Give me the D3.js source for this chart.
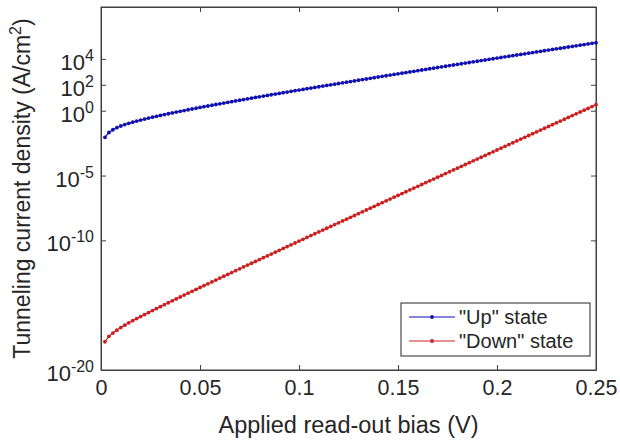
<!DOCTYPE html>
<meta charset="utf-8">
<script src="https://d3js.org/d3.v7.min.js"></script>
<style>
  body { margin: 0; background: #fff; }
  text { font-family: "Liberation Sans", Arial, sans-serif; fill: #262626; }
</style>
<div id="chart"></div>
<script>
// read-out bias (V)
const bias = [
  0.002,0.004,0.006,0.008,0.010,0.012,0.014,0.016,0.018,0.020,
  0.022,0.024,0.026,0.028,0.030,0.032,0.034,0.036,0.038,0.040,
  0.042,0.044,0.046,0.048,0.050,0.052,0.054,0.056,0.058,0.060,
  0.062,0.064,0.066,0.068,0.070,0.072,0.074,0.076,0.078,0.080,
  0.082,0.084,0.086,0.088,0.090,0.092,0.094,0.096,0.098,0.100,
  0.102,0.104,0.106,0.108,0.110,0.112,0.114,0.116,0.118,0.120,
  0.122,0.124,0.126,0.128,0.130,0.132,0.134,0.136,0.138,0.140,
  0.142,0.144,0.146,0.148,0.150,0.152,0.154,0.156,0.158,0.160,
  0.162,0.164,0.166,0.168,0.170,0.172,0.174,0.176,0.178,0.180,
  0.182,0.184,0.186,0.188,0.190,0.192,0.194,0.196,0.198,0.200,
  0.202,0.204,0.206,0.208,0.210,0.212,0.214,0.216,0.218,0.220,
  0.222,0.224,0.226,0.228,0.230,0.232,0.234,0.236,0.238,0.240,
  0.242,0.244,0.246,0.248,0.250
];

// log10 of current density (A/cm^2), "Up" state
const logUp = [
  -2.05,-1.68,-1.47,-1.31,-1.18,-1.066,-0.971,-0.883,-0.800,-0.720,
  -0.644,-0.571,-0.500,-0.431,-0.364,-0.298,-0.234,-0.170,-0.107,-0.046,
  0.014,0.075,0.134,0.192,0.251,0.308,0.365,0.422,0.478,0.534,
  0.589,0.644,0.699,0.753,0.808,0.862,0.916,0.969,1.022,1.075,
  1.129,1.180,1.233,1.286,1.337,1.389,1.441,1.493,1.544,1.595,
  1.646,1.697,1.748,1.798,1.849,1.899,1.949,1.999,2.050,2.100,
  2.151,2.200,2.250,2.300,2.349,2.399,2.448,2.497,2.547,2.600,
  2.649,2.698,2.747,2.796,2.845,2.894,2.943,2.992,3.041,3.090,
  3.139,3.188,3.236,3.285,3.333,3.382,3.430,3.479,3.527,3.576,
  3.624,3.672,3.720,3.768,3.816,3.864,3.913,3.961,4.009,4.057,
  4.105,4.153,4.200,4.248,4.296,4.343,4.391,4.439,4.486,4.534,
  4.581,4.629,4.676,4.724,4.771,4.818,4.866,4.913,4.960,5.007,
  5.055,5.102,5.149,5.196,5.243
];

// log10 of current density (A/cm^2), "Down" state
const logDown = [
  -17.82,-17.40,-17.15,-16.93,-16.73,-16.54,-16.358,-16.195,-16.035,-15.877,
  -15.722,-15.567,-15.414,-15.263,-15.112,-14.962,-14.813,-14.664,-14.516,-14.368,
  -14.221,-14.074,-13.928,-13.783,-13.638,-13.494,-13.350,-13.206,-13.062,-12.913,
  -12.770,-12.627,-12.484,-12.341,-12.194,-12.052,-11.909,-11.767,-11.625,-11.480,
  -11.338,-11.197,-11.055,-10.914,-10.768,-10.626,-10.485,-10.343,-10.202,-10.058,
  -9.917,-9.775,-9.634,-9.492,-9.351,-9.210,-9.068,-8.927,-8.786,-8.645,
  -8.504,-8.363,-8.222,-8.081,-7.940,-7.799,-7.658,-7.517,-7.376,-7.235,
  -7.095,-6.954,-6.814,-6.673,-6.533,-6.392,-6.252,-6.111,-5.971,-5.830,
  -5.690,-5.550,-5.410,-5.270,-5.130,-4.989,-4.849,-4.709,-4.569,-4.429,
  -4.289,-4.149,-4.009,-3.869,-3.729,-3.589,-3.449,-3.309,-3.169,-3.029,
  -2.889,-2.750,-2.610,-2.470,-2.331,-2.191,-2.052,-1.912,-1.773,-1.633,
  -1.494,-1.354,-1.215,-1.075,-0.936,-0.796,-0.657,-0.517,-0.378,-0.238,
  -0.099,0.041,0.180,0.320,0.459
];

const xTicks = [0, 0.05, 0.1, 0.15, 0.2, 0.25];
const xTickLabels = ["0", "0.05", "0.1", "0.15", "0.2", "0.25"];
const yTickExps = [-20, -10, -5, 0, 2, 4];
const seriesNames = ['"Up" state', '"Down" state'];
const seriesColors = ["#1010b0", "#cc2020"];

const W = 620, H = 441;
const margin = {top: 7, right: 24, bottom: 71, left: 101};
const width = W - margin.left - margin.right,
      height = H - margin.top - margin.bottom;

const svg = d3.select("#chart").append("svg")
    .attr("width", W).attr("height", H);
const g = svg.append("g")
    .attr("transform", "translate(" + margin.left + "," + margin.top + ")");

const x = d3.scaleLinear().domain([0, 0.25]).range([0, width]);
const y = d3.scaleLog().domain([1e-20, 1e8]).range([height, 0]);

const axisColor = "#404040";

// bottom axis with labels
const xb = g.append("g")
    .attr("transform", "translate(0," + height + ")")
    .call(d3.axisBottom(x).tickValues(xTicks)
      .tickFormat((d, i) => xTickLabels[i])
      .tickSizeInner(-5).tickSizeOuter(0).tickPadding(10));
// top axis, ticks only
const xt = g.append("g")
    .call(d3.axisTop(x).tickValues(xTicks).tickFormat("")
      .tickSizeInner(-5).tickSizeOuter(0));

const yTickVals = yTickExps.map(e => Math.pow(10, e));
const yl = g.append("g")
    .call(d3.axisLeft(y).tickValues(yTickVals).tickFormat("")
      .tickSizeInner(-5).tickSizeOuter(0));
const yr = g.append("g")
    .attr("transform", "translate(" + width + ",0)")
    .call(d3.axisRight(y).tickValues(yTickVals).tickFormat("")
      .tickSizeInner(-5).tickSizeOuter(0));

[xb, xt, yl, yr].forEach(a => {
  a.select(".domain").attr("stroke", axisColor);
  a.selectAll(".tick line").attr("stroke", axisColor);
});
xb.selectAll("text").attr("font-size", 21.5).style("fill", "#262626")
  .attr("font-family", "Liberation Sans, Arial, sans-serif");

// y tick labels as powers of ten
yTickExps.forEach(e => {
  const t = g.append("text")
      .attr("x", -7)
      .attr("y", y(Math.pow(10, e)) + 11)
      .attr("text-anchor", "end")
      .attr("font-size", 22);
  t.append("tspan").text("10");
  t.append("tspan").attr("font-size", 16).attr("dy", -9).text(e);
});

// frame
g.append("rect").attr("width", width).attr("height", height)
  .attr("fill", "none").attr("stroke", axisColor).attr("stroke-width", 1);

// series
const series = [logUp, logDown];
series.forEach((vals, si) => {
  const pts = bias.map((b, i) => ({v: b, j: Math.pow(10, vals[i])}));
  g.append("path").datum(pts)
    .attr("fill", "none")
    .attr("stroke", seriesColors[si])
    .attr("stroke-width", 1.2)
    .attr("d", d3.line().x(d => x(d.v)).y(d => y(d.j)));
  g.append("g").selectAll("circle").data(pts).join("circle")
    .attr("cx", d => x(d.v)).attr("cy", d => y(d.j))
    .attr("r", 1.9).attr("fill", seriesColors[si]);
});

// axis titles
svg.append("text")
  .attr("x", margin.left + width / 2).attr("y", 433)
  .attr("text-anchor", "middle").attr("font-size", 23.5)
  .text("Applied read-out bias (V)");

const yt = svg.append("text")
  .attr("transform", "translate(30," + (margin.top + height / 2) + ") rotate(-90)")
  .attr("text-anchor", "middle").attr("font-size", 23);
yt.append("tspan").text("Tunneling current density (A/cm");
yt.append("tspan").attr("font-size", 16).attr("dy", -9).text("2");
yt.append("tspan").attr("dy", 9).text(")");

// legend
const lg = svg.append("g").attr("transform", "translate(401,303)");
lg.append("rect").attr("width", 189).attr("height", 53)
  .attr("fill", "#fff").attr("stroke", "#262626").attr("stroke-width", 1);
seriesNames.forEach((name, i) => {
  const cy = 14 + i * 24;
  lg.append("line").attr("x1", 8).attr("x2", 54).attr("y1", cy).attr("y2", cy)
    .attr("stroke", seriesColors[i]).attr("stroke-width", 1.2);
  lg.append("circle").attr("cx", 31).attr("cy", cy).attr("r", 1.9)
    .attr("fill", seriesColors[i]);
  lg.append("text").attr("x", 58).attr("y", cy + 7)
    .attr("font-size", 20).text(name);
});
</script>
